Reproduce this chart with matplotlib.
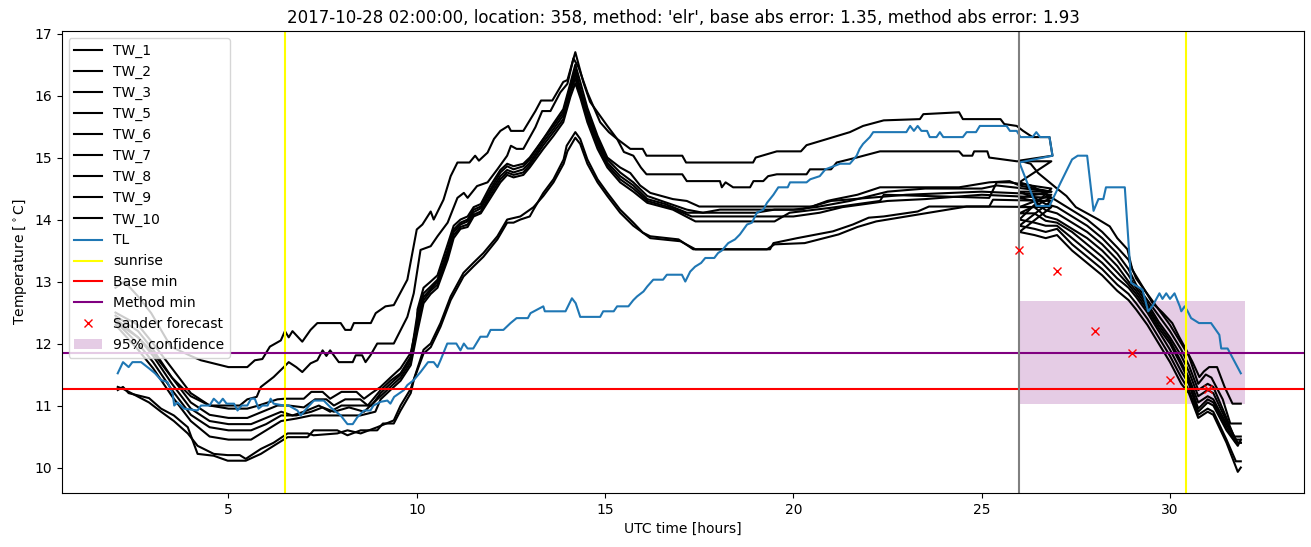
import matplotlib.pyplot as plt

tw1_obs = [(2.0, 12.9), (2.24, 13.0), (2.6, 12.76), (2.95, 12.49), (3.47, 11.95), (4.0, 11.8), (4.27, 11.73),
           (5.0, 11.62), (5.5, 11.62), (5.7, 11.73), (5.9, 11.75), (6.1, 11.95), (6.39, 12.05), (6.5, 12.2),
           (6.6, 12.1), (6.7, 12.2), (6.96, 12.03), (7.18, 12.22), (7.36, 12.33), (7.98, 12.33), (8.1, 12.22),
           (8.25, 12.22), (8.33, 12.33), (8.78, 12.33), (8.91, 12.49), (9.17, 12.6), (9.39, 12.62), (9.75, 13.03),
           (10.0, 13.84), (10.15, 13.92), (10.37, 14.13), (10.45, 14.0), (10.71, 14.32), (10.9, 14.7),
           (11.08, 14.92), (11.4, 14.92), (11.55, 15.03), (11.65, 14.95), (11.88, 15.08), (12.05, 15.3),
           (12.22, 15.43), (12.43, 15.51), (12.5, 15.43), (12.83, 15.43), (13.15, 15.75), (13.3, 15.92),
           (13.6, 15.92), (13.89, 16.22), (14.0, 16.25), (14.21, 16.7), (14.42, 16.22), (14.6, 15.9),
           (15.06, 15.51), (15.32, 15.3), (15.67, 15.14), (16.0, 15.14), (16.1, 15.03), (17.05, 15.03),
           (17.15, 14.92), (18.93, 14.92), (19.0, 15.0), (19.56, 15.1), (20.2, 15.1), (20.35, 15.2), (20.9, 15.3),
           (21.5, 15.41), (21.85, 15.51), (22.4, 15.6), (23.36, 15.62), (23.45, 15.7), (24.4, 15.73),
           (24.5, 15.62), (25.5, 15.62), (25.6, 15.54), (25.93, 15.51), (26.1, 15.43), (26.35, 15.33),
           (26.8, 15.33), (26.88, 15.03)]
tw2_obs = [(2.0, 12.35), (2.6, 12.1), (3.0, 11.85), (3.5, 11.45), (4.0, 11.15), (4.5, 11.0), (5.3, 11.0),
           (5.5, 11.1), (5.75, 11.14), (5.86, 11.3), (6.2, 11.46), (6.47, 11.62), (6.6, 11.7), (6.8, 11.62),
           (6.96, 11.54), (7.18, 11.68), (7.36, 11.73), (7.5, 11.89), (7.6, 11.8), (7.7, 11.89), (7.93, 11.7),
           (8.3, 11.7), (8.38, 11.81), (8.55, 11.81), (8.64, 11.7), (8.77, 11.81), (8.95, 12.0), (9.39, 12.0),
           (9.75, 12.43), (9.92, 12.81), (10.1, 13.51), (10.37, 13.57), (10.55, 13.73), (10.82, 13.95),
           (11.08, 14.35), (11.25, 14.43), (11.35, 14.35), (11.6, 14.54), (11.88, 14.6), (12.14, 14.81),
           (12.4, 15.03), (12.5, 15.19), (12.65, 15.14), (12.83, 15.14), (13.15, 15.49), (13.33, 15.75),
           (13.55, 15.75), (13.81, 16.05), (14.0, 16.19), (14.16, 16.6), (14.3, 16.45), (14.53, 16.05),
           (14.87, 15.57), (15.1, 15.41), (15.32, 15.3), (15.5, 15.09), (15.75, 15.03), (15.95, 14.84),
           (16.1, 14.73), (17.05, 14.73), (17.17, 14.62), (18.05, 14.62), (18.1, 14.52), (18.2, 14.6),
           (18.4, 14.52), (18.85, 14.52), (18.94, 14.62), (19.2, 14.62), (19.33, 14.7), (19.56, 14.73),
           (20.35, 14.73), (20.44, 14.81), (21.0, 14.81), (21.15, 14.92), (21.68, 15.0), (22.3, 15.1),
           (24.4, 15.1), (24.5, 15.03), (24.75, 15.03), (24.8, 15.1), (25.15, 15.1), (25.2, 15.0),
           (25.93, 14.94), (26.85, 14.94)]
tw3_obs = [(2.0, 12.5), (2.6, 12.3), (3.0, 12.0), (3.5, 11.6), (4.0, 11.2), (4.5, 11.0), (5.0, 10.95),
           (5.5, 10.95), (5.8, 11.0), (6.3, 11.1), (6.5, 11.11), (7.0, 11.11), (7.2, 11.22), (7.5, 11.22),
           (7.7, 11.11), (8.0, 11.22), (8.4, 11.22), (8.6, 11.11), (8.8, 11.2), (9.04, 11.3), (9.3, 11.45),
           (9.57, 11.6), (9.84, 11.85), (10.0, 12.3), (10.02, 12.55), (10.18, 12.9), (10.37, 13.0),
           (10.55, 13.1), (10.82, 13.6), (10.98, 13.9), (11.16, 14.0), (11.35, 14.05), (11.51, 14.2),
           (11.7, 14.25), (11.96, 14.55), (12.22, 14.8), (12.4, 14.9), (12.57, 14.86), (12.83, 14.9),
           (13.0, 15.0), (13.36, 15.3), (13.63, 15.55), (13.89, 15.78), (14.08, 16.2), (14.21, 16.5),
           (14.35, 16.2), (14.53, 15.8), (14.8, 15.35), (15.06, 15.0), (15.4, 14.84), (15.67, 14.75),
           (15.93, 14.55), (16.2, 14.43), (16.8, 14.33), (17.17, 14.3), (17.5, 14.21), (20.5, 14.21),
           (20.9, 14.3), (21.05, 14.32), (21.7, 14.4), (22.3, 14.52), (24.4, 14.52), (25.2, 14.6),
           (25.74, 14.62), (26.0, 14.55), (26.4, 14.5), (26.85, 14.45)]
tw5_obs = [(2.0, 12.45), (2.6, 12.2), (3.0, 11.9), (3.5, 11.45), (4.0, 11.05), (4.5, 10.85), (5.0, 10.8),
           (5.5, 10.8), (5.9, 10.9), (6.3, 11.0), (6.6, 11.0), (7.0, 10.97), (7.3, 11.1), (7.6, 11.1),
           (7.8, 11.0), (8.1, 11.1), (8.5, 11.1), (8.7, 11.0), (9.04, 11.25), (9.3, 11.4), (9.57, 11.52),
           (9.84, 11.79), (10.02, 12.49), (10.18, 12.81), (10.37, 12.92), (10.55, 13.03), (10.82, 13.51),
           (10.98, 13.84), (11.16, 13.95), (11.35, 14.0), (11.51, 14.16), (11.7, 14.21), (11.96, 14.49),
           (12.22, 14.76), (12.4, 14.86), (12.57, 14.81), (12.83, 14.86), (13.0, 14.97), (13.36, 15.3),
           (13.63, 15.51), (13.89, 15.73), (14.08, 16.16), (14.21, 16.42), (14.35, 16.1), (14.53, 15.73),
           (14.8, 15.3), (15.06, 14.97), (15.4, 14.76), (15.75, 14.6), (16.12, 14.38), (16.5, 14.3),
           (17.17, 14.16), (17.6, 14.11), (18.05, 14.16), (20.0, 14.16), (20.6, 14.2), (21.5, 14.3),
           (22.5, 14.45), (23.5, 14.5), (25.0, 14.5), (25.4, 14.55), (26.85, 14.45)]
tw6_obs = [(2.0, 12.4), (2.6, 12.1), (3.0, 11.8), (3.5, 11.35), (4.0, 10.95), (4.5, 10.75), (5.0, 10.7),
           (5.6, 10.7), (6.0, 10.8), (6.4, 10.9), (6.7, 10.84), (7.0, 10.9), (7.4, 11.0), (7.7, 10.9),
           (8.0, 11.0), (8.5, 11.0), (8.8, 11.0), (9.04, 11.2), (9.3, 11.35), (9.57, 11.5), (9.84, 11.75),
           (10.02, 12.4), (10.18, 12.75), (10.37, 12.88), (10.55, 13.0), (10.82, 13.45), (10.98, 13.8),
           (11.16, 13.92), (11.35, 13.97), (11.51, 14.12), (11.7, 14.18), (11.96, 14.45), (12.22, 14.7),
           (12.4, 14.8), (12.57, 14.76), (12.83, 14.81), (13.0, 14.92), (13.36, 15.25), (13.63, 15.46),
           (13.89, 15.68), (14.08, 16.1), (14.21, 16.35), (14.35, 16.05), (14.53, 15.68), (14.8, 15.25),
           (15.06, 14.92), (15.4, 14.7), (15.75, 14.55), (16.12, 14.33), (16.6, 14.25), (17.17, 14.11),
           (19.0, 14.11), (19.5, 14.16), (20.2, 14.16), (21.0, 14.3), (22.0, 14.35), (23.0, 14.4),
           (25.0, 14.45), (26.85, 14.4)]
tw7_obs = [(2.0, 12.35), (2.6, 12.0), (3.0, 11.7), (3.5, 11.25), (4.0, 10.85), (4.5, 10.65), (5.0, 10.6),
           (5.6, 10.6), (6.0, 10.7), (6.4, 10.84), (6.8, 10.84), (7.2, 10.9), (7.5, 10.97), (7.8, 10.9),
           (8.2, 10.97), (8.6, 10.9), (9.04, 11.15), (9.3, 11.3), (9.57, 11.45), (9.84, 11.7), (10.02, 12.3),
           (10.18, 12.7), (10.37, 12.85), (10.55, 12.95), (10.82, 13.4), (10.98, 13.75), (11.16, 13.88),
           (11.35, 13.92), (11.51, 14.08), (11.7, 14.13), (11.96, 14.4), (12.22, 14.65), (12.4, 14.76),
           (12.57, 14.72), (12.83, 14.76), (13.0, 14.88), (13.36, 15.2), (13.63, 15.41), (13.89, 15.62),
           (14.08, 16.05), (14.21, 16.28), (14.35, 16.0), (14.53, 15.62), (14.8, 15.2), (15.06, 14.88),
           (15.4, 14.65), (15.75, 14.5), (16.12, 14.3), (16.7, 14.2), (17.3, 14.05), (20.0, 14.05),
           (20.7, 14.11), (21.3, 14.2), (22.5, 14.3), (23.5, 14.33), (25.0, 14.4), (26.85, 14.35)]
tw8_obs = [(2.0, 12.3), (2.6, 11.9), (3.0, 11.6), (3.5, 11.15), (4.0, 10.75), (4.5, 10.5), (5.0, 10.45),
           (5.6, 10.45), (6.0, 10.6), (6.4, 10.75), (6.8, 10.79), (7.2, 10.84), (8.5, 10.84), (8.9, 10.9),
           (9.04, 11.1), (9.3, 11.25), (9.57, 11.4), (9.84, 11.65), (10.02, 12.2), (10.18, 12.65),
           (10.37, 12.8), (10.55, 12.9), (10.82, 13.35), (10.98, 13.7), (11.16, 13.85), (11.35, 13.88),
           (11.51, 14.05), (11.7, 14.1), (11.96, 14.35), (12.22, 14.6), (12.4, 14.72), (12.57, 14.68),
           (12.83, 14.72), (13.0, 14.84), (13.36, 15.14), (13.63, 15.35), (13.89, 15.57), (14.08, 15.98),
           (14.21, 16.2), (14.35, 15.95), (14.53, 15.57), (14.8, 15.14), (15.06, 14.84), (15.4, 14.6),
           (15.75, 14.45), (16.12, 14.27), (16.8, 14.16), (17.4, 13.97), (19.5, 13.97), (19.9, 14.11),
           (21.0, 14.19), (22.3, 14.3), (22.4, 14.4), (25.2, 14.35), (25.4, 14.6), (25.74, 14.6),
           (26.85, 14.5)]
tw9_obs = [(2.06, 11.25), (2.2, 11.3), (2.35, 11.2), (2.89, 11.12), (3.21, 10.95), (3.55, 10.84),
           (3.92, 10.65), (4.18, 10.22), (4.61, 10.19), (4.98, 10.11), (5.46, 10.11), (5.86, 10.22),
           (6.2, 10.35), (6.57, 10.49), (7.1, 10.49), (7.26, 10.6), (7.89, 10.6), (8.16, 10.52), (8.51, 10.6),
           (8.95, 10.6), (9.1, 10.71), (9.39, 10.71), (9.57, 10.92), (9.84, 11.2), (9.92, 11.41),
           (10.18, 11.84), (10.37, 11.94), (10.63, 12.27), (10.9, 12.7), (11.24, 13.08), (11.5, 13.24),
           (11.77, 13.4), (12.14, 13.68), (12.4, 13.95), (12.57, 13.95), (12.75, 14.0), (13.0, 14.05),
           (13.1, 14.16), (13.36, 14.43), (13.63, 14.65), (13.9, 14.97), (13.98, 15.19), (14.21, 15.41),
           (14.34, 15.3), (14.53, 14.97), (14.8, 14.65), (15.06, 14.43), (15.4, 14.16), (15.75, 13.95),
           (16.0, 13.79), (16.2, 13.73), (16.95, 13.68), (17.34, 13.52), (19.38, 13.52), (19.47, 13.62),
           (20.1, 13.7), (21.05, 13.81), (21.58, 13.92), (22.0, 14.03), (22.4, 14.05), (23.3, 14.13),
           (23.6, 14.21), (25.2, 14.21), (25.3, 14.32), (26.85, 14.3)]
tw10_obs = [(2.06, 11.3), (2.2, 11.27), (2.89, 11.05), (3.21, 10.9), (3.55, 10.75), (3.92, 10.55),
            (4.18, 10.35), (4.61, 10.22), (4.98, 10.2), (5.3, 10.2), (5.46, 10.14), (5.86, 10.3), (6.2, 10.4),
            (6.57, 10.55), (7.1, 10.55), (7.26, 10.52), (7.89, 10.55), (8.16, 10.6), (8.51, 10.55),
            (8.95, 10.65), (9.39, 10.76), (9.57, 11.0), (9.84, 11.27), (10.18, 11.9), (10.37, 12.0),
            (10.63, 12.33), (10.9, 12.76), (11.24, 13.14), (11.5, 13.3), (11.77, 13.46), (12.14, 13.73),
            (12.4, 14.0), (12.75, 14.05), (13.1, 14.2), (13.36, 14.38), (13.63, 14.6), (13.9, 14.9),
            (14.0, 15.1), (14.21, 15.32), (14.34, 15.22), (14.53, 14.9), (14.8, 14.6), (15.06, 14.38),
            (15.4, 14.11), (15.75, 13.9), (16.2, 13.7), (17.0, 13.65), (17.4, 13.52), (19.3, 13.52),
            (19.5, 13.6), (20.3, 13.62), (21.2, 13.76), (21.7, 13.88), (22.2, 13.97), (23.0, 14.05),
            (23.6, 14.11), (24.6, 14.21), (25.0, 14.21), (26.85, 14.2)]

# forecast part of each sensor series (starts again at hour 26)
tw1_fc = [(26.0, 14.95), (26.3, 14.9), (26.5, 14.75), (26.8, 14.6), (27.0, 14.5), (27.25, 14.38), (27.5, 14.2),
          (27.77, 14.11), (28.1, 14.0), (28.4, 13.89), (28.6, 13.7), (28.87, 13.52), (29.0, 13.19),
          (29.27, 12.92), (29.54, 12.65), (29.8, 12.5), (30.06, 12.33), (30.25, 12.1), (30.43, 11.9),
          (30.6, 11.7), (30.78, 11.46), (30.9, 11.55), (31.04, 11.62), (31.25, 11.62), (31.45, 11.3),
          (31.66, 11.03), (31.88, 11.03)]
tw2_fc = [(26.0, 14.6), (26.3, 14.55), (26.6, 14.45), (27.0, 14.3), (27.4, 14.15), (27.8, 14.0), (28.2, 13.8),
          (28.6, 13.55), (28.9, 13.35), (29.1, 13.05), (29.4, 12.8), (29.7, 12.55), (30.0, 12.3), (30.3, 12.0),
          (30.5, 11.8), (30.75, 11.35), (30.95, 11.5), (31.1, 11.45), (31.4, 11.1), (31.6, 10.71),
          (31.88, 10.71)]
tw3_fc = [(26.0, 14.45), (26.4, 14.35), (26.7, 14.25), (27.0, 14.2), (27.4, 14.05), (27.8, 13.9), (28.2, 13.7),
          (28.6, 13.45), (28.9, 13.2), (29.1, 12.95), (29.4, 12.7), (29.7, 12.45), (30.0, 12.2), (30.3, 11.9),
          (30.5, 11.65), (30.75, 11.25), (31.0, 11.35), (31.15, 11.3), (31.5, 10.8), (31.7, 10.5),
          (31.88, 10.5)]
tw5_fc = [(26.0, 14.35), (26.4, 14.3), (26.7, 14.15), (27.0, 14.1), (27.4, 13.95), (27.8, 13.8), (28.2, 13.6),
          (28.6, 13.35), (28.9, 13.1), (29.1, 12.9), (29.4, 12.65), (29.7, 12.35), (30.0, 12.1), (30.3, 11.8),
          (30.5, 11.55), (30.75, 11.15), (31.0, 11.25), (31.15, 11.2), (31.5, 10.75), (31.75, 10.45),
          (31.88, 10.45)]
tw6_fc = [(26.0, 14.2), (26.4, 14.2), (26.7, 14.05), (27.0, 14.0), (27.4, 13.85), (27.8, 13.7), (28.2, 13.5),
          (28.6, 13.25), (28.9, 13.0), (29.1, 12.85), (29.4, 12.6), (29.7, 12.3), (30.0, 12.05), (30.3, 11.7),
          (30.5, 11.45), (30.75, 11.05), (31.0, 11.15), (31.15, 11.1), (31.5, 10.7), (31.8, 10.4),
          (31.88, 10.4)]
tw7_fc = [(26.0, 14.1), (26.4, 14.1), (26.7, 13.98), (27.0, 13.95), (27.4, 13.8), (27.8, 13.6), (28.2, 13.4),
          (28.6, 13.15), (28.9, 12.95), (29.1, 12.8), (29.4, 12.55), (29.7, 12.25), (30.0, 12.0), (30.3, 11.65),
          (30.5, 11.4), (30.75, 10.95), (31.0, 11.1), (31.15, 11.05), (31.5, 10.65), (31.75, 10.4),
          (31.88, 10.4)]
tw8_fc = [(26.0, 14.0), (26.4, 13.95), (26.7, 13.9), (27.0, 13.9), (27.4, 13.7), (27.8, 13.5), (28.2, 13.3),
          (28.6, 13.05), (28.9, 12.9), (29.1, 12.75), (29.4, 12.5), (29.7, 12.2), (30.0, 11.9), (30.3, 11.55),
          (30.5, 11.35), (30.75, 10.9), (31.0, 11.05), (31.15, 11.0), (31.5, 10.6), (31.8, 10.35),
          (31.88, 10.45)]
tw9_fc = [(26.0, 13.9), (26.4, 13.85), (26.7, 13.8), (27.0, 13.85), (27.4, 13.6), (27.8, 13.4), (28.2, 13.2),
          (28.6, 12.95), (28.9, 12.8), (29.1, 12.65), (29.4, 12.4), (29.7, 12.1), (30.0, 11.8), (30.3, 11.45),
          (30.5, 11.25), (30.75, 10.85), (31.0, 10.95), (31.15, 10.9), (31.5, 10.45), (31.75, 10.1),
          (31.88, 10.1)]
tw10_fc = [(26.0, 13.8), (26.4, 13.75), (26.7, 13.7), (27.0, 13.75), (27.4, 13.5), (27.8, 13.3), (28.2, 13.1),
           (28.6, 12.85), (28.9, 12.7), (29.1, 12.55), (29.4, 12.3), (29.7, 12.0), (30.0, 11.7), (30.3, 11.35),
           (30.5, 11.2), (30.75, 10.8), (31.0, 10.9), (31.15, 10.85), (31.5, 10.4), (31.8, 9.93),
           (31.88, 10.0)]

tl_obs = [(2.06, 11.52), (2.2, 11.7), (2.35, 11.62), (2.45, 11.7), (2.68, 11.7), (2.89, 11.6), (3.05, 11.52),
          (3.21, 11.41), (3.38, 11.38), (3.52, 11.19), (3.56, 11.0), (3.65, 11.05), (3.82, 10.95),
          (4.18, 10.92), (4.27, 11.0), (4.5, 11.0), (4.61, 11.11), (4.75, 11.03), (4.85, 11.11),
          (4.95, 11.03), (5.15, 11.03), (5.24, 10.92), (5.35, 11.0), (5.5, 11.0), (5.6, 11.11), (5.7, 11.11),
          (5.8, 10.95), (5.9, 11.0), (6.04, 11.0), (6.12, 11.11), (6.2, 11.03), (6.47, 11.0), (6.6, 11.0),
          (6.83, 10.92), (6.92, 10.84), (7.1, 10.97), (7.27, 11.08), (7.53, 11.08), (7.71, 10.97),
          (7.98, 10.84), (8.16, 10.7), (8.3, 10.7), (8.42, 10.81), (8.6, 10.92), (8.77, 10.92), (8.85, 11.0),
          (9.04, 11.06), (9.22, 11.08), (9.3, 11.03), (9.4, 11.14), (9.66, 11.25), (9.75, 11.33),
          (9.92, 11.41), (10.1, 11.54), (10.2, 11.62), (10.3, 11.7), (10.45, 11.7), (10.55, 11.62),
          (10.63, 11.73), (10.81, 12.0), (11.05, 12.0), (11.16, 11.89), (11.25, 12.0), (11.35, 11.92),
          (11.5, 11.92), (11.69, 12.11), (11.87, 12.11), (11.96, 12.22), (12.3, 12.22), (12.49, 12.33),
          (12.65, 12.41), (12.95, 12.41), (13.02, 12.49), (13.36, 12.6), (13.4, 12.52), (13.95, 12.52),
          (14.12, 12.73), (14.22, 12.65), (14.34, 12.43), (14.87, 12.43), (14.95, 12.52), (15.23, 12.52),
          (15.32, 12.6), (15.62, 12.6), (15.75, 12.7), (15.85, 12.76), (16.02, 12.84), (16.12, 12.92),
          (16.28, 13.03), (16.54, 13.03), (16.64, 13.11), (17.04, 13.11), (17.13, 13.0), (17.26, 13.16),
          (17.39, 13.24), (17.55, 13.3), (17.66, 13.38), (17.9, 13.38), (18.0, 13.46), (18.1, 13.5),
          (18.27, 13.62), (18.45, 13.68), (18.58, 13.76), (18.77, 13.92), (18.9, 13.95), (19.03, 14.11),
          (19.2, 14.16), (19.3, 14.27), (19.47, 14.4), (19.6, 14.52), (19.85, 14.52), (19.91, 14.6),
          (20.35, 14.6), (20.45, 14.65), (20.7, 14.7), (20.85, 14.81), (21.24, 14.9), (21.5, 14.9),
          (21.68, 15.03), (21.76, 15.14), (21.85, 15.22), (22.03, 15.33), (22.12, 15.41), (23.0, 15.41),
          (23.1, 15.51), (23.2, 15.43), (23.3, 15.51), (23.4, 15.43), (23.55, 15.43), (23.62, 15.33),
          (23.8, 15.33), (23.89, 15.41), (23.98, 15.33), (24.5, 15.33), (24.6, 15.41), (24.85, 15.41),
          (24.95, 15.51), (25.66, 15.51), (25.75, 15.43), (25.93, 15.43), (26.03, 15.33), (26.35, 15.33),
          (26.45, 15.41), (26.55, 15.33), (26.8, 15.33), (26.88, 15.03)]
tl_fc = [(26.0, 14.92), (26.45, 14.22), (26.8, 14.22), (27.1, 14.6), (27.4, 14.97), (27.55, 15.03),
         (27.8, 15.03), (27.97, 14.14), (28.1, 14.33), (28.23, 14.33), (28.3, 14.52), (28.8, 14.52),
         (28.97, 12.98), (29.27, 12.87), (29.42, 12.52), (29.53, 12.6), (29.72, 12.81), (29.8, 12.72),
         (29.9, 12.81), (30.0, 12.72), (30.12, 12.81), (30.26, 12.6), (30.3, 12.52), (30.39, 12.6),
         (30.47, 12.52), (30.56, 12.41), (30.77, 12.33), (31.09, 12.33), (31.31, 12.14), (31.36, 11.92),
         (31.53, 11.92), (31.88, 11.52)]

tw_names = ['TW_1', 'TW_2', 'TW_3', 'TW_5', 'TW_6', 'TW_7', 'TW_8', 'TW_9', 'TW_10']
tw_obs = [tw1_obs, tw2_obs, tw3_obs, tw5_obs, tw6_obs, tw7_obs, tw8_obs, tw9_obs, tw10_obs]
tw_fc = [tw1_fc, tw2_fc, tw3_fc, tw5_fc, tw6_fc, tw7_fc, tw8_fc, tw9_fc, tw10_fc]

sunrise_hours = [6.5, 30.43]
forecast_start = 26.0
base_min = 11.27
method_min = 11.85
sander_hours = [26, 27, 28, 29, 30, 31]
sander_temp = [13.51, 13.17, 12.20, 11.84, 11.41, 11.27]
conf_hours = [26.0, 32.0]
conf_low = 11.02
conf_high = 12.69

title = "2017-10-28 02:00:00, location: 358, method: 'elr', base abs error: 1.35, method abs error: 1.93"

fig, ax = plt.subplots(figsize=(13.11, 5.47), dpi=100)
fig.subplots_adjust(left=0.047, right=0.995, top=0.943, bottom=0.099)

for name, obs, fc in zip(tw_names, tw_obs, tw_fc):
    series = obs + fc
    ax.plot([p[0] for p in series], [p[1] for p in series], color='black', label=name)

tl_all = tl_obs + tl_fc
ax.plot([p[0] for p in tl_all], [p[1] for p in tl_all], color='tab:blue', label='TL')

ax.axvline(sunrise_hours[0], color='yellow', label='sunrise')
ax.axhline(base_min, color='red', label='Base min')
ax.axhline(method_min, color='purple', label='Method min')
ax.axvline(sunrise_hours[1], color='yellow')
ax.axvline(forecast_start, color='grey')
ax.plot(sander_hours, sander_temp, 'rx', label='Sander forecast')
ax.fill_between(conf_hours, conf_low, conf_high, color='purple', alpha=0.2, linewidth=0,
                label='95% confidence', zorder=0)

ax.set_xlim(0.57, 33.57)
ax.set_title(title)
ax.set_xlabel('UTC time [hours]')
ax.set_ylabel(r'Temperature [$^\circ$C]')
ax.legend(loc='upper left')

fig.savefig('out.png', dpi=100)
